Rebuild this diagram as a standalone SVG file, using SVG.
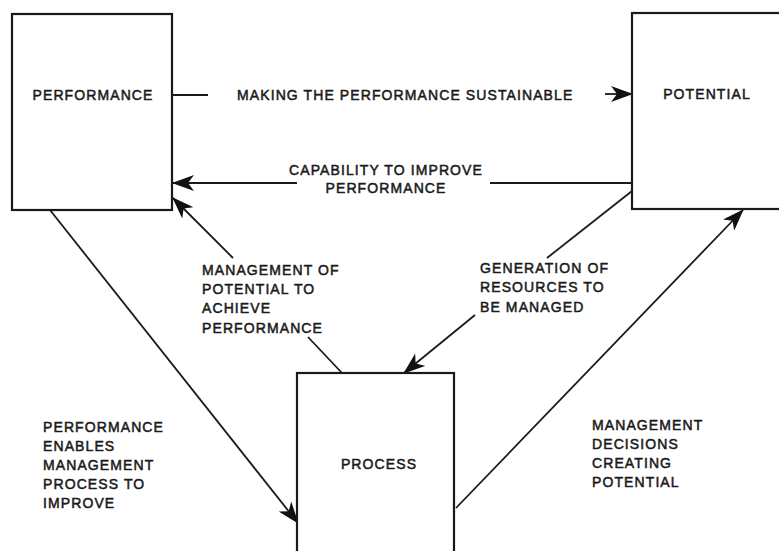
<svg xmlns="http://www.w3.org/2000/svg" width="779" height="551" viewBox="0 0 779 551">
  <defs>
    <marker id="arrow" viewBox="0 0 22 16" refX="21" refY="8" markerWidth="22" markerHeight="16" markerUnits="userSpaceOnUse" orient="auto">
      <path d="M0,0 L22,8 L0,16 L6,8 Z" fill="#111"/>
    </marker>
  </defs>
  <style>
    .box { fill: #fff; stroke: #1a1a1a; stroke-width: 2.2; }
    .link { fill: none; stroke: #1a1a1a; stroke-width: 1.8; }
    .head { marker-end: url(#arrow); }
    text { font-family: "Liberation Sans", Arial, sans-serif; font-size: 14px; letter-spacing: 1.1px; fill: #1a1a1a; stroke: #1a1a1a; stroke-width: 0.5; }
    .c { text-anchor: middle; }
  </style>
  <rect width="779" height="551" fill="#fff"/>

  <g id="connectors">
    <!-- Performance -> Potential -->
    <line class="link" x1="172" y1="95" x2="208" y2="95"/>
    <line class="link head" x1="605" y1="94" x2="632" y2="94"/>
    <!-- Potential -> Performance -->
    <line class="link" x1="632" y1="183" x2="490" y2="183"/>
    <line class="link head" x1="297" y1="183" x2="173" y2="183"/>
    <!-- Process -> Performance -->
    <line class="link" x1="342" y1="373" x2="308" y2="337"/>
    <line class="link head" x1="233" y1="258" x2="173" y2="198"/>
    <!-- Potential -> Process -->
    <line class="link" x1="632" y1="191" x2="547" y2="258"/>
    <line class="link head" x1="475" y1="315" x2="404" y2="373"/>
    <!-- Performance -> Process -->
    <line class="link head" x1="50" y1="210" x2="298" y2="523"/>
    <!-- Process -> Potential -->
    <line class="link head" x1="456" y1="508" x2="743" y2="210"/>
  </g>

  <g id="performance">
    <rect class="box" x="12" y="14" width="160" height="196"/>
    <text class="c" x="93" y="100">PERFORMANCE</text>
  </g>

  <g id="potential">
    <rect class="box" x="632" y="13" width="170" height="196"/>
    <text class="c" x="707" y="99">POTENTIAL</text>
  </g>

  <g id="process">
    <rect class="box" x="297" y="373" width="157" height="200"/>
    <text class="c" x="379" y="469">PROCESS</text>
  </g>

  <g id="labels">
    <text x="237" y="100">MAKING THE PERFORMANCE SUSTAINABLE</text>
    <text class="c" x="386" y="175">CAPABILITY TO IMPROVE</text>
    <text class="c" x="386" y="193">PERFORMANCE</text>
    <text x="202">
      <tspan x="202" y="275">MANAGEMENT OF</tspan>
      <tspan x="202" y="294">POTENTIAL TO</tspan>
      <tspan x="202" y="313">ACHIEVE</tspan>
      <tspan x="202" y="333">PERFORMANCE</tspan>
    </text>
    <text x="480">
      <tspan x="480" y="273">GENERATION OF</tspan>
      <tspan x="480" y="292">RESOURCES TO</tspan>
      <tspan x="480" y="312">BE MANAGED</tspan>
    </text>
    <text x="43">
      <tspan x="43" y="432">PERFORMANCE</tspan>
      <tspan x="43" y="451">ENABLES</tspan>
      <tspan x="43" y="470">MANAGEMENT</tspan>
      <tspan x="43" y="489">PROCESS TO</tspan>
      <tspan x="43" y="508">IMPROVE</tspan>
    </text>
    <text x="592">
      <tspan x="592" y="430">MANAGEMENT</tspan>
      <tspan x="592" y="449">DECISIONS</tspan>
      <tspan x="592" y="468">CREATING</tspan>
      <tspan x="592" y="487">POTENTIAL</tspan>
    </text>
  </g>
</svg>
